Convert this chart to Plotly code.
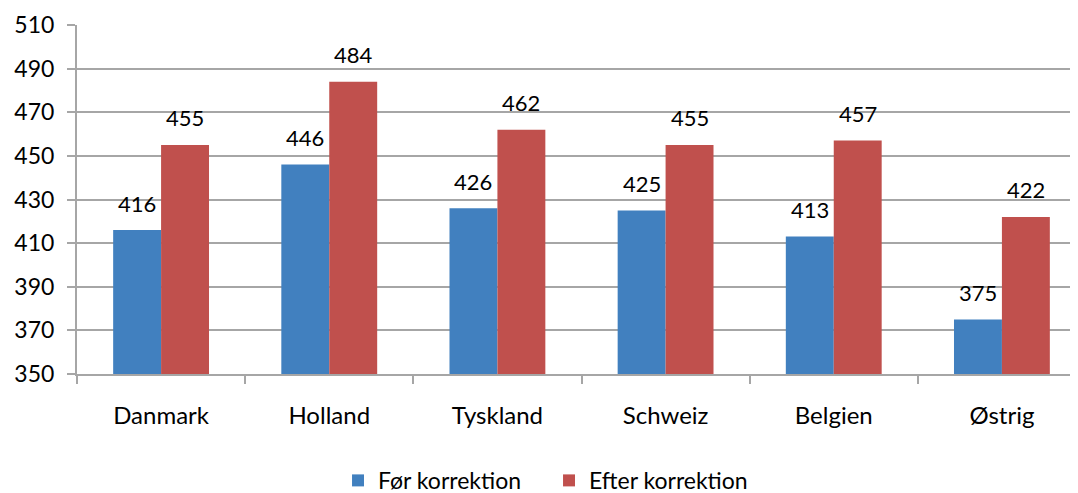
import plotly.graph_objects as go

categories = ["Danmark", "Holland", "Tyskland", "Schweiz", "Belgien", "Østrig"]
foer = [416, 446, 426, 425, 413, 375]
efter = [455, 484, 462, 455, 457, 422]
series_names = ["Før korrektion", "Efter korrektion"]
y_ticks = [350, 370, 390, 410, 430, 450, 470, 490, 510]

BLUE = "#4180BF"
RED = "#C0504D"
GRID = "#A6A6A6"
FONT = "Lato"

fig = go.Figure()
fig.add_trace(go.Bar(x=categories, y=foer, name=series_names[0], marker_color=BLUE,
                     marker_line_width=0))
fig.add_trace(go.Bar(x=categories, y=efter, name=series_names[1], marker_color=RED,
                     marker_line_width=0))

annotations = []
for i, c in enumerate(categories):
    for v, dx in ((foer[i], -24), (efter[i], 24)):
        annotations.append(dict(x=c, y=v, xref="x", yref="y", text=str(v), showarrow=False,
                                xshift=dx, yshift=27, yanchor="middle",
                                font=dict(family=FONT, size=22, color="#000000")))

# page body has an 8px offset, so margins are reduced by 8px on left/top
fig.update_layout(
    width=1078, height=493,
    margin=dict(l=69, r=0, t=17, b=127, autoexpand=False),
    paper_bgcolor="white", plot_bgcolor="white",
    barmode="group", bargap=0.43, bargroupgap=0,
    font=dict(family=FONT, size=23, color="#000000"),
    annotations=annotations,
    showlegend=True,
    legend=dict(orientation="h", x=0.2587, xanchor="left", y=-0.305, yanchor="middle",
                font=dict(family=FONT, size=23), itemwidth=30, entrywidth=166,
                traceorder="normal"),
    xaxis=dict(range=[-0.5, 5.5], tickson="boundaries", ticks="outside", ticklen=8,
               tickcolor=GRID, tickwidth=2, showline=True, linecolor=GRID, linewidth=2,
               showgrid=False, ticklabelstandoff=19, automargin=False,
               tickfont=dict(family=FONT, size=24)),
    yaxis=dict(range=[350, 510], tickvals=y_ticks, ticks="outside", ticklen=8,
               tickcolor=GRID, tickwidth=2, showline=True, linecolor=GRID, linewidth=2,
               showgrid=True, gridcolor=GRID, gridwidth=2, zeroline=False, automargin=False,
               tickfont=dict(family=FONT, size=23), ticklabelstandoff=8),
)

fig.write_html("out.html")
